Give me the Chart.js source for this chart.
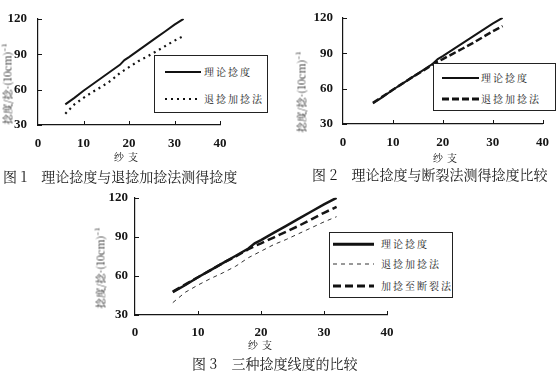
<!DOCTYPE html>
<html lang="zh">
<head>
  <meta charset="UTF-8" />
  <title>捻度比较</title>
  <script src="https://cdn.jsdelivr.net/npm/chart.js@4/dist/chart.umd.min.js"></script>
  <style>
    html,body { margin:0; padding:0; background:#fff; }
    body      { width:560px; height:371px; position:relative; overflow:hidden;
                font-family:'Noto Serif CJK SC','Noto Sans CJK SC',serif; color:#1a1a1a; }
    canvas    { position:absolute; }
    .ytitle   { position:absolute; white-space:nowrap; font-size:10.5px;
                transform:translate(-50%,-50%) rotate(-90deg); }
    .xtitle   { position:absolute; font-size:10px; letter-spacing:4px;
                transform:translate(-50%,-50%); }
    .cap      { position:absolute; font-size:14px; white-space:nowrap; }
    .cap b    { font-weight:normal; margin-right:14px; }
    .lg       { position:absolute; border:1px solid #222; background:#fff; box-sizing:border-box; }
    .lg div   { position:absolute; left:0; right:0; height:14px; white-space:nowrap; }
    .lg i     { position:absolute; top:50%; transform:translateY(-50%); }
    .lg span  { position:absolute; top:0; font-size:10px; line-height:14px; letter-spacing:2px; }
  </style>
</head>
<body>
  <!-- chart 1 -->
  <canvas id="c1" width="240" height="150" style="left:0;top:0"></canvas>
  <div class="ytitle" style="left:7px;top:84px">捻度/捻·(10cm)⁻¹</div>
  <div class="xtitle" style="left:128px;top:156px">纱支</div>
  <div class="cap" style="left:3px;top:166px"><b>图 1</b>理论捻度与退捻加捻法测得捻度</div>
  <div class="lg" style="left:154px;top:55px;width:114px;height:58px">
    <div style="top:9px"><i style="left:10px;width:36px;height:2px;background:#111"></i><span style="left:49px">理论捻度</span></div>
    <div style="top:36px"><i style="left:10px;width:36px;height:2px;background:repeating-linear-gradient(90deg,#111 0 2px,transparent 2px 6px)"></i><span style="left:49px">退捻加捻法</span></div>
  </div>

  <!-- chart 2 -->
  <canvas id="c2" width="255" height="149" style="left:305px;top:0"></canvas>
  <div class="ytitle" style="left:301px;top:92px">捻度/捻·(10cm)⁻¹</div>
  <div class="xtitle" style="left:447px;top:157px">纱支</div>
  <div class="cap" style="left:312px;top:164px"><b>图 2</b>理论捻度与断裂法测得捻度比较</div>
  <div class="lg" style="left:433px;top:63px;width:123px;height:48px">
    <div style="top:7px"><i style="left:8px;width:37px;height:2px;background:#111"></i><span style="left:47px">理论捻度</span></div>
    <div style="top:28px"><i style="left:8px;width:37px;height:3px;background:repeating-linear-gradient(90deg,#111 0 7px,transparent 7px 10px)"></i><span style="left:47px">退捻加捻法</span></div>
  </div>

  <!-- chart 3 -->
  <canvas id="c3" width="310" height="157" style="left:97px;top:183px"></canvas>
  <div class="ytitle" style="left:100px;top:268px">捻度/捻·(10cm)⁻¹</div>
  <div class="xtitle" style="left:262px;top:344px">纱支</div>
  <div class="cap" style="left:192px;top:353px"><b>图 3</b>三种捻度线度的比较</div>
  <div class="lg" style="left:329px;top:232px;width:124px;height:66px;overflow:hidden">
    <div style="top:4px"><i style="left:3px;width:41px;height:2.5px;background:#111"></i><span style="left:51px">理论捻度</span></div>
    <div style="top:24px"><i style="left:3px;width:41px;height:1px;background:repeating-linear-gradient(90deg,#333 0 4px,transparent 4px 8px)"></i><span style="left:51px">退捻加捻法</span></div>
    <div style="top:46px"><i style="left:3px;width:41px;height:3px;background:repeating-linear-gradient(90deg,#111 0 8px,transparent 8px 12px)"></i><span style="left:51px;letter-spacing:2px">加捻至断裂法</span></div>
  </div>

  <script>
    // ---- data ----
    const yarnCount   = [6, 8, 10, 12, 14, 16, 18, 19, 20, 22, 24, 26, 28, 30, 32];
    const theoretical = [47.5, 53, 59, 64.5, 70, 75.5, 81, 85, 87.5, 93, 98.5, 104, 109.5, 115, 120];
    const untwistRetwist = [39.5, 47.5, 53, 58, 62.5, 67.5, 74, 76.5, 79, 84, 88, 92.5, 97, 101.5, 105.5];
    const twistToBreak   = [48, 53.5, 59, 64.5, 70, 75, 80.5, 83, 85, 89.5, 94, 98.5, 103.5, 108.5, 113];
    const xTicks = [0, 10, 20, 30, 40];
    const yTicks = [30, 60, 90, 120];

    const ink = '#151515';
    const pts = arr => arr.map((v, i) => ({ x: yarnCount[i], y: v }));

    Chart.defaults.font.family = "'Liberation Serif', serif";
    Chart.defaults.font.weight = 'bold';
    Chart.defaults.font.size = 13;
    Chart.defaults.color = ink;

    // small inward tick marks like the printed figure
    const innerTicks = {
      id: 'innerTicks',
      afterDraw(chart) {
        const { ctx, scales: { x, y }, chartArea: a } = chart;
        ctx.save();
        ctx.strokeStyle = ink; ctx.lineWidth = 1;
        ctx.beginPath();
        x.ticks.forEach(t => {
          if (t.value === xTicks[0]) return;
          const px = Math.round(x.getPixelForValue(t.value)) + .5;
          ctx.moveTo(px, a.bottom); ctx.lineTo(px, a.bottom - 4);
        });
        y.ticks.forEach(t => {
          const py = Math.round(y.getPixelForValue(t.value)) + .5;
          ctx.moveTo(a.left, py); ctx.lineTo(a.left + 4, py);
        });
        ctx.stroke(); ctx.restore();
      }
    };

    function makeChart(id, datasets, lay) {
      new Chart(document.getElementById(id), {
        type: 'line',
        data: { datasets },
        options: {
          responsive: false, animation: false, devicePixelRatio: 1,
          layout: { padding: { top: lay.top, right: lay.right, left: 0, bottom: 0 } },
          plugins: { legend: { display: false }, tooltip: { enabled: false } },
          elements: { point: { radius: 0 }, line: { tension: 0 } },
          scales: {
            x: {
              type: 'linear', min: xTicks[0], max: xTicks[xTicks.length - 1],
              grid: { display: false, drawTicks: false, tickLength: 0 },
              border: { display: true, color: ink, width: 1.2 },
              afterBuildTicks: s => { s.ticks = xTicks.map(v => ({ value: v })); },
              afterFit: s => { s.height = 25; },
              ticks: { padding: lay.xPad, maxRotation: 0 }
            },
            y: {
              min: yTicks[0], max: yTicks[yTicks.length - 1],
              grid: { display: false, drawTicks: false, tickLength: 0 },
              border: { display: true, color: ink, width: 1.2 },
              afterBuildTicks: s => { s.ticks = yTicks.map(v => ({ value: v })); },
              afterFit: s => { s.width = 38; },
              ticks: { padding: lay.yPad }
            }
          }
        },
        plugins: [innerTicks]
      });
    }

    const solid = { label: '理论捻度', data: pts(theoretical), borderColor: ink, borderWidth: 2 };

    makeChart('c1', [
      solid,
      { label: '退捻加捻法', data: pts(untwistRetwist), borderColor: ink, borderWidth: 2.2, borderDash: [2, 4] }
    ], { top: 12, right: 20, xPad: 11, yPad: 11 });

    makeChart('c2', [
      solid,
      { label: '退捻加捻法', data: pts(twistToBreak), borderColor: ink, borderWidth: 2.5, borderDash: [7, 3] }
    ], { top: 9, right: 12, xPad: 11, yPad: 10 });

    makeChart('c3', [
      { ...solid, data: pts(theoretical), borderWidth: 2.5 },
      { label: '退捻加捻法', data: pts(untwistRetwist), borderColor: '#333', borderWidth: 1, borderDash: [4, 4] },
      { label: '加捻至断裂法', data: pts(twistToBreak), borderColor: ink, borderWidth: 2.5, borderDash: [8, 4] }
    ], { top: 12, right: 20, xPad: 10, yPad: 7 });
  </script>
</body>
</html>
